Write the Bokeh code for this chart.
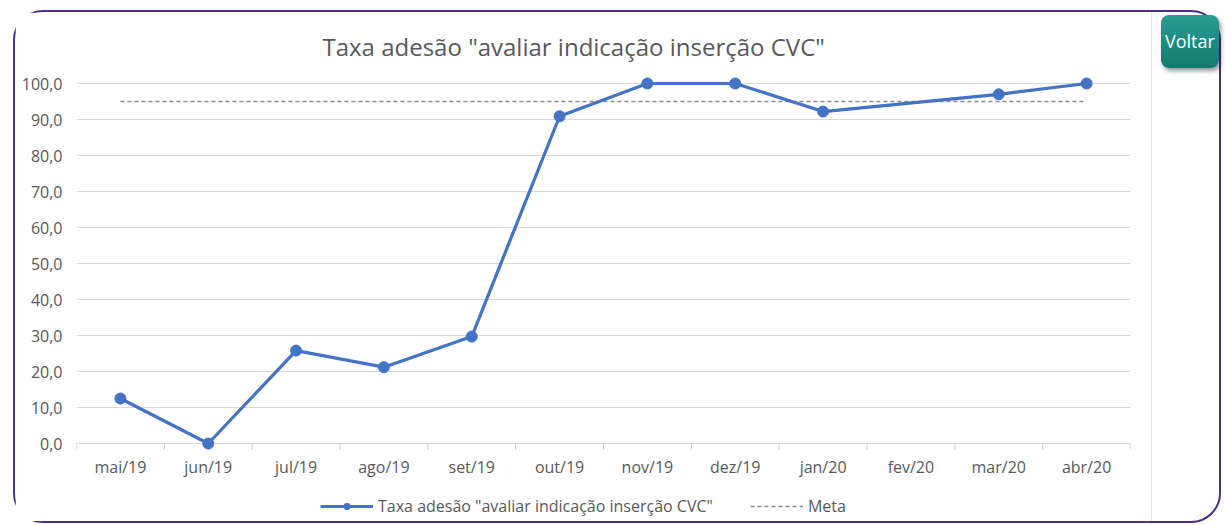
from bokeh.plotting import figure
from bokeh.models import (Range1d, FixedTicker, Legend, LegendItem, Div, Row, Column)
from bokeh.embed import file_html
from bokeh.resources import INLINE

# ---- data ----
MONTHS = ["mai/19", "jun/19", "jul/19", "ago/19", "set/19", "out/19",
          "nov/19", "dez/19", "jan/20", "fev/20", "mar/20", "abr/20"]
TAXA = [12.5, 0.0, 25.8, 21.2, 29.7, 90.9, 100.0, 100.0, 92.2, None, 97.0, 100.0]
META = [95.0, 95.0, 95.0, 95.0, 95.0, 95.0, 95.0, 95.0, 95.0, 95.0, 95.0, 95.0]
Y_TICKS = [0, 10, 20, 30, 40, 50, 60, 70, 80, 90, 100]
TITLE = 'Taxa adesão "avaliar indicação inserção CVC"'
SERIES_NAME = 'Taxa adesão "avaliar indicação inserção CVC"'
META_NAME = "Meta"
BUTTON = "Voltar"

FONT = "Open Sans"
TXT = "#595959"
BLUE = "#4472c4"
GREY = "#8a8a8a"
SEP = {"border-right": "1px solid #e3e3e3"}

idx = list(range(len(MONTHS)))
vx = [i for i, v in zip(idx, TAXA) if v is not None]
vy = [v for v in TAXA if v is not None]

p = figure(width=1137, height=470, output_backend="svg", toolbar_location=None,
           x_range=Range1d(-0.5, len(MONTHS) - 0.5), y_range=Range1d(-2.5, 102.5),
           min_border_left=61, min_border_right=22, min_border_top=62, min_border_bottom=30)
p.outline_line_color = None
p.background_fill_color = "white"
p.border_fill_color = "white"
p.styles = SEP

p.title.text = TITLE
p.title.align = "left"
p.title.offset = 246
p.title.standoff = 24
p.title.text_font = FONT
p.title.text_font_size = "24px"
p.title.text_font_style = "normal"
p.title.text_color = TXT

# axes
p.xaxis.ticker = FixedTicker(ticks=idx)
p.xaxis.major_label_overrides = {i: m for i, m in zip(idx, MONTHS)}
p.xaxis.axis_line_color = None
p.xaxis.major_tick_line_color = None
p.xaxis.major_tick_out = 0
p.xaxis.major_tick_in = 0
p.xaxis.minor_tick_line_color = None
p.xaxis.major_label_standoff = 3
p.xaxis.major_label_text_font = FONT
p.xaxis.major_label_text_font_size = "16px"
p.xaxis.major_label_text_color = TXT

p.yaxis.ticker = FixedTicker(ticks=Y_TICKS)
p.yaxis.major_label_overrides = {t: f"{t:.1f}".replace(".", ",") for t in Y_TICKS}
p.yaxis.axis_line_color = None
p.yaxis.major_tick_line_color = None
p.yaxis.major_tick_out = 0
p.yaxis.major_tick_in = 0
p.yaxis.minor_tick_line_color = None
p.yaxis.major_label_standoff = 14
p.yaxis.major_label_text_font = FONT
p.yaxis.major_label_text_font_size = "16px"
p.yaxis.major_label_text_color = TXT

p.xgrid.grid_line_color = None
p.ygrid.grid_line_color = "#d9d9d9"
p.ygrid.grid_line_width = 1

# category boundary tick marks below the zero line
bounds = [i - 0.5 for i in range(len(MONTHS) + 1)]
p.segment(x0=bounds, y0=[Y_TICKS[0]] * len(bounds), x1=bounds,
          y1=[Y_TICKS[0] - 1.7] * len(bounds), line_color="#c8c8c8", line_width=1)

# meta dashed line
p.line(idx, META, line_color=GREY, line_width=1.6, line_dash="4 3")

# series
p.line(vx, vy, line_color=BLUE, line_width=3.2)
p.scatter(vx, vy, size=11, fill_color=BLUE, line_color=BLUE)

# ---- legend strip (separate small figure holding only the legend) ----
# its ranges are far from the data so that only the legend keys show
lg = figure(width=1137, height=39, output_backend="svg", toolbar_location=None,
            x_axis_type=None, y_axis_type=None, min_border=0,
            x_range=Range1d(-100, -99), y_range=Range1d(-100, -99))
lg.outline_line_color = None
lg.grid.visible = False
lg.styles = SEP
k_line = lg.line(vx, vy, line_color=BLUE, line_width=3.2)
k_dot = lg.scatter(vx, vy, size=11, fill_color=BLUE, line_color=BLUE)
k_meta = lg.line(idx, META, line_color=GREY, line_width=1.6, line_dash="4 3")
legend = Legend(items=[LegendItem(label=SERIES_NAME, renderers=[k_line, k_dot]),
                       LegendItem(label=META_NAME, renderers=[k_meta])],
                orientation="horizontal", location=(244, 4),
                glyph_width=53, glyph_height=16, label_standoff=5, spacing=37,
                padding=0, margin=0, border_line_color=None, background_fill_alpha=0,
                label_text_font=FONT, label_text_font_size="16px", label_text_color=TXT)
lg.add_layout(legend)

btn = Div(text=BUTTON, width=58, height=53, margin=(3, 0, 0, 9),
          styles={"background": "linear-gradient(#2a9d93, #137a70)", "color": "white",
                  "font-family": "Open Sans", "font-size": "18px", "line-height": "53px",
                  "text-indent": "4px", "border-radius": "8px",
                  "box-shadow": "2px 3px 4px rgba(0,0,0,0.4)",
                  "white-space": "nowrap", "overflow": "hidden"})

layout = Row(Column(p, lg, spacing=0), btn, margin=(10, 0, 0, 13),
             styles={"border": "2.5px solid #4e2d84", "border-radius": "30px",
                     "background": "white"})

open("out.html", "w").write(file_html(layout, INLINE))
